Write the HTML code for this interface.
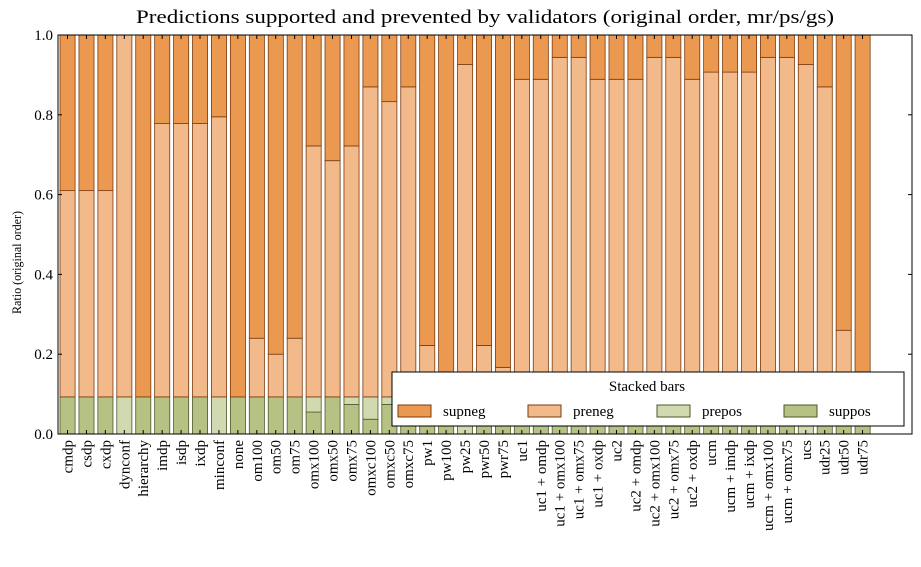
<!DOCTYPE html>
<html><head><meta charset="utf-8"><style>
body{margin:0;background:#fff;}
svg text{font-family:"Liberation Serif",serif;}
</style></head><body>
<svg id="s" width="921" height="562" xmlns="http://www.w3.org/2000/svg"></svg>
<script>
(function(){
var names=["cmdp","csdp","cxdp","dynconf","hierarchy","imdp","isdp","ixdp","minconf","none","om100","om50","om75","omx100","omx50","omx75","omxc100","omxc50","omxc75","pw1","pw100","pw25","pwr50","pwr75","uc1","uc1 + omdp","uc1 + omx100","uc1 + omx75","uc1 + oxdp","uc2","uc2 + omdp","uc2 + omx100","uc2 + omx75","uc2 + oxdp","ucm","ucm + imdp","ucm + ixdp","ucm + omx100","ucm + omx75","ucs","udr25","udr50","udr75"];
var tops=[0.61,0.61,0.61,1.0,0.093,0.778,0.778,0.778,0.795,0.093,0.24,0.2,0.24,0.722,0.685,0.722,0.87,0.833,0.87,0.222,0.093,0.926,0.222,0.167,0.889,0.889,0.944,0.944,0.889,0.889,0.889,0.944,0.944,0.889,0.907,0.907,0.907,0.944,0.944,0.926,0.87,0.26,0.093];
var sup={3:0,8:0,13:0.055,15:0.074,16:0.037,17:0.074,18:0.074,21:0,39:0};
function Y(v){return 434-v*399;}
var h='';
function rect(x,y0,y1,f,s){return '<rect x="'+x+'" y="'+Y(y1)+'" width="15.1" height="'+(Y(y0)-Y(y1))+'" fill="'+f+'" stroke="'+s+'" stroke-width="0.8"/>';}
names.forEach(function(n,i){
 var x=60+18.93*i; var sp=(i in sup)?sup[i]:0.093;
 if(sp>0)h+=rect(x,0,sp,"#b5c283","#4a5a2a");
 if(sp<0.093)h+=rect(x,sp,0.093,"#d0d9b0","#4a5a2a");
 if(tops[i]>0.093)h+=rect(x,0.093,tops[i],"#f2b98a","#7a3b0e");
 if(tops[i]<1)h+=rect(x,tops[i],1,"#eb9950","#7a3b0e");
 var cx=x+7.5;
 h+='<line x1="'+cx+'" y1="434" x2="'+cx+'" y2="430" stroke="#000"/><line x1="'+cx+'" y1="35" x2="'+cx+'" y2="39" stroke="#000"/>';
 h+='<text transform="translate('+(cx+5)+',440) rotate(-90)" text-anchor="end" font-size="15">'+n+'</text>';
});
for(var k=0;k<=5;k++){var v=k*0.2,y=Y(v);
 h+='<line x1="58" y1="'+y+'" x2="62" y2="'+y+'" stroke="#000"/><line x1="912" y1="'+y+'" x2="908" y2="'+y+'" stroke="#000"/>';
 h+='<text x="53" y="'+(y+5)+'" text-anchor="end" font-size="15">'+v.toFixed(1)+'</text>';}
h+='<rect x="58" y="35" width="854" height="399" fill="none" stroke="#000" stroke-width="1"/>';
h+='<text x="136" y="23" font-size="19" textLength="698" lengthAdjust="spacingAndGlyphs">Predictions supported and prevented by validators (original order, mr/ps/gs)</text>';
h+='<text transform="translate(21,314) rotate(-90)" font-size="13" textLength="103" lengthAdjust="spacingAndGlyphs">Ratio (original order)</text>';
h+='<rect x="392" y="372" width="512" height="54" fill="#fff" stroke="#000" stroke-width="1"/>';
h+='<text x="647" y="391" text-anchor="middle" font-size="15">Stacked bars</text>';
var L=[["supneg","#eb9950","#7a3b0e",398],["preneg","#f2b98a","#7a3b0e",528],["prepos","#d0d9b0","#4a5a2a",657],["suppos","#b5c283","#4a5a2a",784]];
L.forEach(function(a){h+='<rect x="'+a[3]+'" y="405" width="33" height="12" fill="'+a[1]+'" stroke="'+a[2]+'"/><text x="'+(a[3]+45)+'" y="416" font-size="15">'+a[0]+'</text>';});
document.getElementById('s').innerHTML=h;
})();
</script>
</body></html>
